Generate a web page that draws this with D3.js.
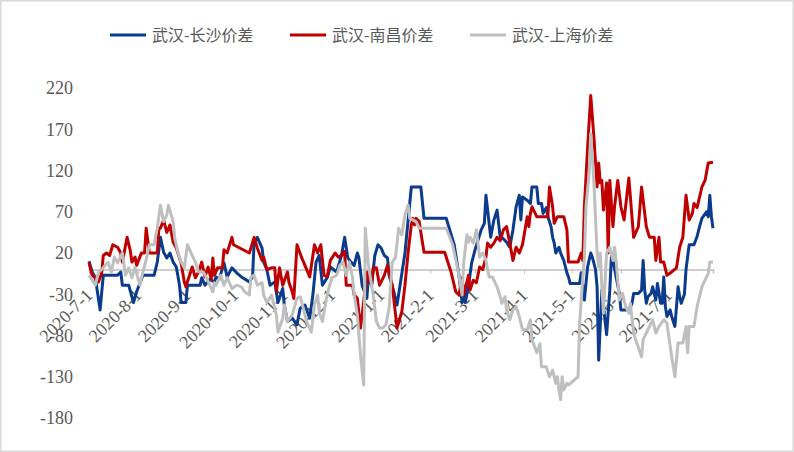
<!DOCTYPE html>
<html><head><meta charset="utf-8">
<script src="https://cdn.jsdelivr.net/npm/d3@7"></script>
<style>body{margin:0;background:#fff}svg{display:block}</style>
</head><body>
<svg id="c" width="794" height="452"></svg>
<script>
const seriesNames = ["武汉-长沙价差","武汉-南昌价差","武汉-上海价差"];
const seriesColors = ["#0b3b8c","#c00000","#bfbfbf"];
const yTicks = [220,170,120,70,20,-30,-80,-130,-180];
const xTickDates = ["2020-07-01","2020-08-01","2020-09-01","2020-10-01","2020-11-01","2020-12-01","2021-01-01","2021-02-01","2021-03-01","2021-04-01","2021-05-01","2021-06-01","2021-07-01"];

const csDates = ["2020-07-01","2020-07-03","2020-07-05","2020-07-08","2020-07-10","2020-07-12","2020-07-19","2020-07-21","2020-07-22","2020-07-26","2020-07-29","2020-07-31","2020-08-04","2020-08-11","2020-08-13","2020-08-15","2020-08-17","2020-08-19","2020-08-21","2020-08-23","2020-08-25","2020-08-27","2020-08-28","2020-08-31","2020-09-01","2020-09-09","2020-09-10","2020-09-12","2020-09-15","2020-09-18","2020-09-19","2020-09-21","2020-09-24","2020-09-26","2020-09-29","2020-10-02","2020-10-05","2020-10-10","2020-10-12","2020-10-13","2020-10-15","2020-10-18","2020-10-19","2020-10-21","2020-10-23","2020-10-26","2020-10-28","2020-10-31","2020-11-01","2020-11-03","2020-11-06","2020-11-09","2020-11-11","2020-11-14","2020-11-17","2020-11-19","2020-11-21","2020-11-23","2020-11-25","2020-11-28","2020-11-30","2020-12-04","2020-12-07","2020-12-09","2020-12-11","2020-12-13","2020-12-15","2020-12-17","2020-12-18","2020-12-20","2020-12-23","2020-12-24","2020-12-26","2020-12-28","2020-12-30","2021-01-01","2021-01-03","2021-01-05","2021-01-06","2021-01-09","2021-01-11","2021-01-16","2021-01-19","2021-01-20","2021-01-26","2021-01-28","2021-02-11","2021-02-16","2021-02-19","2021-02-21","2021-02-22","2021-02-23","2021-02-25","2021-02-27","2021-03-01","2021-03-05","2021-03-07","2021-03-08","2021-03-11","2021-03-13","2021-03-15","2021-03-17","2021-03-18","2021-03-21","2021-03-23","2021-03-25","2021-03-27","2021-03-29","2021-03-30","2021-03-31","2021-04-03","2021-04-05","2021-04-06","2021-04-09","2021-04-10","2021-04-12","2021-04-13","2021-04-15","2021-04-16","2021-04-18","2021-04-19","2021-04-20","2021-04-21","2021-04-23","2021-04-24","2021-04-26","2021-04-28","2021-04-29","2021-04-30","2021-05-06","2021-05-07","2021-05-09","2021-05-11","2021-05-13","2021-05-14","2021-05-16","2021-05-17","2021-05-18","2021-05-20","2021-05-21","2021-05-23","2021-05-25","2021-05-26","2021-05-27","2021-05-31","2021-06-01","2021-06-06","2021-06-08","2021-06-09","2021-06-12","2021-06-14","2021-06-15","2021-06-16","2021-06-17","2021-06-18","2021-06-20","2021-06-21","2021-06-23","2021-06-24","2021-06-26","2021-06-27","2021-06-28","2021-06-29","2021-06-30","2021-07-02","2021-07-03","2021-07-05","2021-07-07","2021-07-08","2021-07-09","2021-07-11","2021-07-12","2021-07-14","2021-07-17","2021-07-19","2021-07-20","2021-07-22","2021-07-25","2021-07-26","2021-07-27","2021-07-28","2021-07-29"];
const csValues = [10,-3,-10,-49,-7,-7,-7,-3,-19,-19,-40,-27,-7,-7,9,39,21,14,20,9,3,-19,-40,-40,-19,-19,-10,-19,-12,-15,-9,-12,8,-9,2,-4,-9,-15,-9,33,39,26,9,0,-19,-15,-40,-23,-43,-63,-59,-67,-47,-43,-59,-31,9,17,-19,-10,3,-3,17,39,14,9,5,20,14,-19,-35,-7,-19,17,30,26,17,14,-7,-27,-43,20,80,100,100,62,62,30,-7,-40,-20,-40,-20,8,23,48,56,90,39,60,72,39,39,33,27,48,76,90,60,88,84,80,100,100,80,80,68,75,64,52,39,32,20,27,20,11,-4,-9,-17,-17,-4,-37,3,20,15,0,-21,-110,-25,-45,-79,-25,15,11,-29,-49,-49,-41,-29,-29,-25,11,-25,-41,-33,-29,-21,-37,-17,-41,-41,-9,-45,-57,-49,-57,-69,-21,-33,-41,-30,0,30,30,40,48,62,70,64,90,64,50];

const ncDates = ["2020-07-01","2020-07-03","2020-07-05","2020-07-07","2020-07-09","2020-07-10","2020-07-12","2020-07-14","2020-07-16","2020-07-19","2020-07-21","2020-07-22","2020-07-25","2020-07-27","2020-07-28","2020-07-30","2020-07-31","2020-08-02","2020-08-03","2020-08-05","2020-08-06","2020-08-08","2020-08-13","2020-08-14","2020-08-15","2020-08-17","2020-08-19","2020-08-21","2020-08-23","2020-08-25","2020-08-28","2020-08-30","2020-08-31","2020-09-04","2020-09-06","2020-09-08","2020-09-10","2020-09-12","2020-09-14","2020-09-16","2020-09-17","2020-09-18","2020-09-20","2020-09-23","2020-09-24","2020-09-26","2020-09-29","2020-09-30","2020-10-03","2020-10-10","2020-10-13","2020-10-15","2020-10-18","2020-10-19","2020-10-21","2020-10-24","2020-10-26","2020-10-27","2020-10-29","2020-10-31","2020-11-03","2020-11-04","2020-11-06","2020-11-07","2020-11-09","2020-11-12","2020-11-14","2020-11-17","2020-11-20","2020-11-22","2020-11-24","2020-11-26","2020-11-28","2020-11-30","2020-12-03","2020-12-05","2020-12-07","2020-12-09","2020-12-10","2020-12-14","2020-12-15","2020-12-17","2020-12-19","2020-12-21","2020-12-23","2020-12-24","2020-12-26","2020-12-27","2020-12-29","2020-12-31","2021-01-03","2021-01-05","2021-01-08","2021-01-11","2021-01-14","2021-01-16","2021-01-18","2021-01-20","2021-01-21","2021-01-22","2021-01-23","2021-01-25","2021-01-26","2021-01-28","2021-02-10","2021-02-14","2021-02-17","2021-02-19","2021-02-21","2021-02-22","2021-02-25","2021-02-26","2021-02-28","2021-03-02","2021-03-04","2021-03-06","2021-03-08","2021-03-09","2021-03-11","2021-03-13","2021-03-15","2021-03-17","2021-03-19","2021-03-21","2021-03-23","2021-03-25","2021-03-27","2021-03-29","2021-03-31","2021-04-03","2021-04-04","2021-04-05","2021-04-06","2021-04-09","2021-04-16","2021-04-17","2021-04-19","2021-04-20","2021-04-22","2021-04-26","2021-04-28","2021-04-29","2021-05-05","2021-05-07","2021-05-08","2021-05-09","2021-05-11","2021-05-13","2021-05-15","2021-05-17","2021-05-18","2021-05-19","2021-05-20","2021-05-21","2021-05-23","2021-05-24","2021-05-25","2021-05-27","2021-05-28","2021-05-30","2021-06-01","2021-06-03","2021-06-06","2021-06-09","2021-06-12","2021-06-14","2021-06-17","2021-06-19","2021-06-22","2021-06-23","2021-06-25","2021-06-26","2021-06-28","2021-06-30","2021-07-03","2021-07-06","2021-07-08","2021-07-10","2021-07-12","2021-07-14","2021-07-16","2021-07-17","2021-07-19","2021-07-22","2021-07-24","2021-07-26","2021-07-29"];
const ncValues = [8,-7,-10,-15,-4,17,20,17,30,27,20,9,39,23,9,15,5,15,20,20,50,20,20,50,50,60,45,54,33,26,8,-15,-21,3,-10,-3,9,-9,3,-12,14,-7,2,2,24,20,39,30,27,20,39,26,11,15,0,2,2,-27,2,-19,-3,-16,-27,-35,30,14,5,-9,30,20,30,-7,-9,11,20,15,17,22,-19,-19,-31,-35,-71,-39,-3,-10,-19,2,2,-19,-7,5,-19,-71,-51,-19,21,54,62,54,62,58,45,21,21,-3,-27,-31,-10,-31,-7,-25,-13,-16,3,0,15,32,27,32,39,35,48,52,32,11,27,20,30,64,52,68,76,64,64,100,76,56,64,64,48,9,9,20,11,76,147,211,160,100,129,105,108,72,105,20,108,52,76,108,76,60,111,39,52,100,52,39,39,11,39,9,9,-7,-3,2,27,39,90,60,68,80,75,100,108,129,130];

const shDates = ["2020-07-01","2020-07-03","2020-07-05","2020-07-07","2020-07-09","2020-07-13","2020-07-15","2020-07-17","2020-07-19","2020-07-22","2020-07-24","2020-07-26","2020-07-28","2020-07-30","2020-08-02","2020-08-04","2020-08-06","2020-08-08","2020-08-11","2020-08-13","2020-08-15","2020-08-17","2020-08-19","2020-08-20","2020-08-23","2020-08-24","2020-08-26","2020-08-28","2020-08-30","2020-09-01","2020-09-04","2020-09-06","2020-09-08","2020-09-11","2020-09-13","2020-09-15","2020-09-17","2020-09-18","2020-09-19","2020-09-22","2020-09-24","2020-09-26","2020-09-29","2020-10-02","2020-10-05","2020-10-07","2020-10-10","2020-10-11","2020-10-13","2020-10-15","2020-10-18","2020-10-19","2020-10-21","2020-10-24","2020-10-27","2020-10-28","2020-10-31","2020-11-01","2020-11-03","2020-11-06","2020-11-09","2020-11-11","2020-11-13","2020-11-15","2020-11-17","2020-11-18","2020-11-20","2020-11-22","2020-11-23","2020-11-25","2020-11-28","2020-11-29","2020-12-01","2020-12-04","2020-12-06","2020-12-08","2020-12-10","2020-12-12","2020-12-14","2020-12-15","2020-12-17","2020-12-19","2020-12-21","2020-12-22","2020-12-24","2020-12-27","2020-12-29","2020-12-31","2021-01-02","2021-01-04","2021-01-06","2021-01-08","2021-01-10","2021-01-12","2021-01-14","2021-01-16","2021-01-18","2021-01-19","2021-01-23","2021-01-25","2021-02-11","2021-02-15","2021-02-19","2021-02-21","2021-02-22","2021-02-24","2021-02-25","2021-02-26","2021-02-28","2021-03-02","2021-03-04","2021-03-06","2021-03-08","2021-03-10","2021-03-12","2021-03-15","2021-03-17","2021-03-18","2021-03-20","2021-03-21","2021-03-23","2021-03-25","2021-03-27","2021-03-29","2021-03-31","2021-04-03","2021-04-05","2021-04-06","2021-04-09","2021-04-11","2021-04-12","2021-04-15","2021-04-17","2021-04-19","2021-04-21","2021-04-22","2021-04-23","2021-04-24","2021-04-25","2021-04-26","2021-04-28","2021-04-29","2021-05-05","2021-05-06","2021-05-07","2021-05-09","2021-05-10","2021-05-12","2021-05-13","2021-05-15","2021-05-17","2021-05-18","2021-05-19","2021-05-20","2021-05-21","2021-05-23","2021-05-25","2021-05-27","2021-05-28","2021-05-29","2021-05-31","2021-06-02","2021-06-04","2021-06-06","2021-06-07","2021-06-09","2021-06-11","2021-06-14","2021-06-15","2021-06-17","2021-06-19","2021-06-21","2021-06-23","2021-06-25","2021-06-28","2021-06-30","2021-07-03","2021-07-05","2021-07-07","2021-07-10","2021-07-12","2021-07-13","2021-07-14","2021-07-17","2021-07-19","2021-07-22","2021-07-24","2021-07-26","2021-07-27","2021-07-29"];
const shValues = [-7,-13,-19,-3,0,9,-3,15,8,20,-7,2,-10,3,-19,-3,12,30,30,50,78,58,66,78,58,38,21,9,2,30,17,9,-3,-3,-10,-19,-27,-16,-19,-7,-19,-10,-23,-19,-21,-27,-31,-9,-7,-19,-16,-31,-40,-31,-55,-76,-59,-43,-63,-55,-35,-33,-47,-63,-71,-76,-43,-31,-52,-63,-31,-23,-10,-7,5,9,-7,9,-10,-31,-55,-104,-140,50,5,-31,-63,-71,-71,-67,-47,9,14,50,42,66,78,62,58,50,50,30,-7,-31,9,42,33,39,32,48,15,20,11,-9,-9,-21,-33,-41,-33,-49,-61,-49,-45,-57,-73,-73,-61,-85,-101,-90,-118,-118,-130,-122,-138,-130,-146,-158,-130,-146,-138,-140,-130,-65,-37,15,76,117,165,105,20,3,20,-21,-53,20,27,11,27,11,-37,-29,-45,-53,-41,-77,-89,-106,-85,-77,-69,-61,-77,-69,-61,-65,-106,-130,-89,-89,-69,-101,-69,-69,-45,-21,-13,-5,9,9];

const parse = d3.timeParse("%Y-%m-%d");
const fmt = d3.timeFormat("%Y-%-m-%-d");
const toPts = (ds, vs) => ds.map((d,i)=>({date:parse(d), value:vs[i]}));
const series = [toPts(csDates,csValues), toPts(ncDates,ncValues), toPts(shDates,shValues)];

const svg = d3.select("#c");
svg.append("rect").attr("x",0.75).attr("y",0.75).attr("width",792.5).attr("height",450.5)
  .attr("fill","#fff").attr("stroke","#d9d9d9").attr("stroke-width",1.5);

const x = d3.scaleTime().domain([parse("2020-07-01"), parse("2021-07-29")]).range([89, 713]);
const y = d3.scaleLinear().domain([-180, 220]).range([418, 88]);

// y labels
svg.append("g").selectAll("text").data(yTicks).join("text")
  .attr("x", 73).attr("y", d=>y(d)).attr("dy","0.35em").attr("text-anchor","end")
  .attr("font-family","'Liberation Serif','Times New Roman',serif").attr("font-size",18)
  .attr("fill","#595959").text(d=>d);

// zero axis
const xAxis = d3.axisBottom(x).tickValues(xTickDates.map(parse)).tickSize(4).tickFormat(fmt);
const gx = svg.append("g").attr("transform",`translate(0,${y(0)})`).call(xAxis);
gx.select(".domain").attr("stroke","#bfbfbf").attr("stroke-width",1.5);
gx.selectAll(".tick line").attr("stroke","#bfbfbf").attr("stroke-width",1);
gx.selectAll(".tick text")
  .attr("font-family","'Liberation Serif','Times New Roman',serif").attr("font-size",18)
  .attr("fill","#595959").attr("text-anchor","end")
  .attr("x",0).attr("y",0).attr("dy",null)
  .attr("transform","translate(4,27) rotate(-45)");

// lines
const line = d3.line().x(d=>x(d.date)).y(d=>y(d.value));
series.forEach((s,i)=>{
  svg.append("path").datum(s).attr("d",line).attr("fill","none")
    .attr("stroke",seriesColors[i]).attr("stroke-width",3).attr("stroke-linejoin","round");
});

// legend
const legX = [110, 290, 470];
const lg = svg.append("g");
seriesNames.forEach((n,i)=>{
  lg.append("line").attr("x1",legX[i]).attr("x2",legX[i]+36).attr("y1",35).attr("y2",35)
    .attr("stroke",seriesColors[i]).attr("stroke-width",3);
  lg.append("text").attr("x",legX[i]+42).attr("y",35).attr("dy","0.35em")
    .attr("font-family","'Noto Sans CJK SC',sans-serif").attr("font-size",16)
    .attr("fill","#595959").text(n);
});
</script>
</body></html>
